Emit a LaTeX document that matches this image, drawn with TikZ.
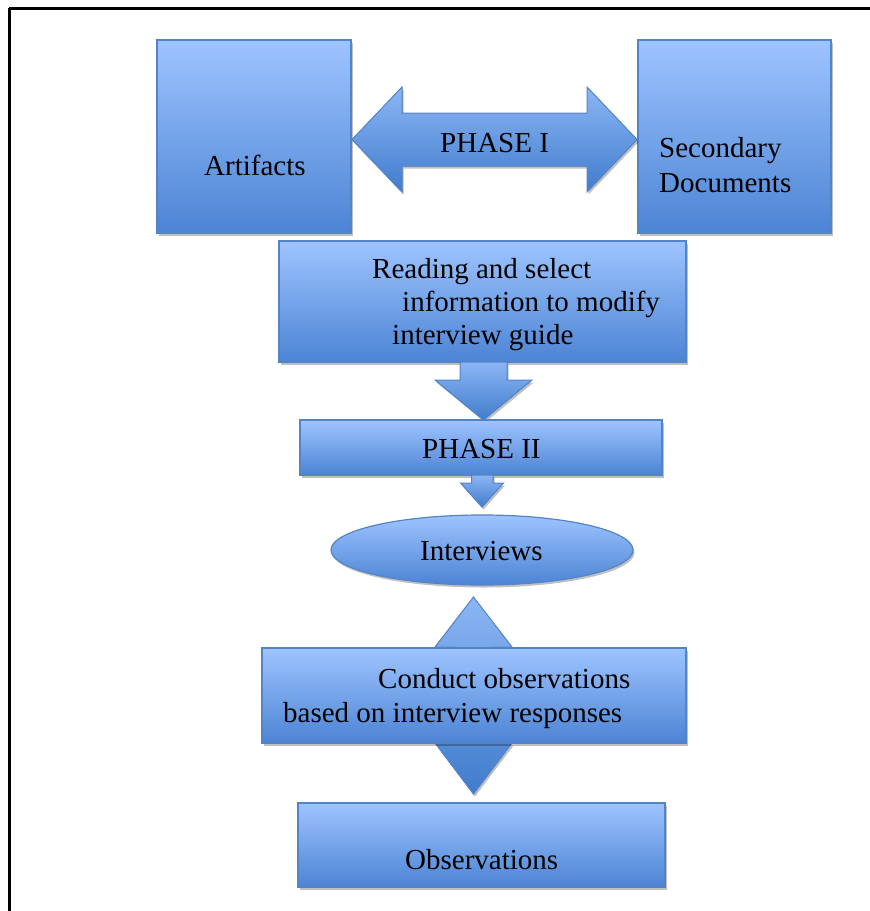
\documentclass[tikz,border=0pt]{standalone}
\usepackage{fontspec}
\setmainfont{Liberation Serif}
\usetikzlibrary{shadows,shapes.geometric}
\definecolor{boxtop}{RGB}{158,196,255}
\definecolor{boxbot}{RGB}{76,132,212}
\definecolor{arrtop}{RGB}{140,182,245}
\definecolor{arrbot}{RGB}{64,124,204}
\definecolor{edge}{RGB}{84,132,200}
\tikzset{
  blockbox/.style={draw=edge, line width=1.2pt, top color=boxtop, bottom color=boxbot,
    rectangle, inner sep=0pt,
    drop shadow={shadow xshift=1.5pt, shadow yshift=-2.5pt, opacity=0.25, fill=black}},
  blockarrow/.style={draw=edge, line width=1pt, line join=miter, top color=arrtop, bottom color=arrbot,
    drop shadow={shadow xshift=1.5pt, shadow yshift=-2.5pt, opacity=0.25, fill=black}},
  label/.style={anchor=base west, inner sep=0pt, font=\fontsize{29}{33}\selectfont},
  frameline/.style={line width=3pt}
}
\begin{document}
\begin{tikzpicture}[x=1pt,y=-1pt]
\useasboundingbox (0,0) rectangle (870,911);
\fill[white] (0,0) rectangle (870,911);

% outer frame (top and left edges)
\draw[frameline] (9,8) -- (870,8);
\draw[frameline] (9,8) -- (9,911);

% boxes of phase I
\node[blockbox, minimum width=194pt, minimum height=193pt] (art) at (254,136.5) {};
\node[blockbox, minimum width=193pt, minimum height=193pt] (sec) at (734.5,136.5) {};

% two-way arrow between the sources
\filldraw[blockarrow] (352,139.5) -- (402,87) -- (402,113) -- (587,113) -- (587,87)
  -- (637,139.5) -- (587,192) -- (587,166) -- (402,166) -- (402,192) -- cycle;

% reading step
\node[blockbox, minimum width=407pt, minimum height=121pt] (read) at (482.5,301.5) {};

% arrow down to phase II
\filldraw[blockarrow] (460,362) -- (507,362) -- (507,380) -- (532,380) -- (483.5,420)
  -- (435,380) -- (460,380) -- cycle;

% phase II bar
\node[blockbox, minimum width=362pt, minimum height=55pt] (ph2) at (481,447.5) {};

% small arrow down to interviews
\filldraw[blockarrow] (471.5,475) -- (493,475) -- (493,483) -- (503.5,483) -- (482,507)
  -- (460.5,483) -- (471.5,483) -- cycle;

% interviews
\node[blockbox, ellipse, minimum width=302pt, minimum height=70pt] (int) at (482,550) {};

% two-way vertical arrow behind the observation step
\filldraw[blockarrow] (473.5,597) -- (512,647) -- (492,647) -- (492,743) -- (512,743)
  -- (473.5,794) -- (435,743) -- (455,743) -- (455,647) -- (435,647) -- cycle;

% observation step
\node[blockbox, minimum width=424pt, minimum height=95pt] (cond) at (474,695.5) {};

% observations
\node[blockbox, minimum width=367pt, minimum height=84pt] (obs) at (481.5,845) {};

% texts
\node[label] (tArt) at (204,175) {Artifacts};
\node[label] (tSec1) at (659,157) {Secondary};
\node[label] (tSec2) at (659,192) {Documents};
\node[label] (tPh1) at (440,152) {PHASE I};
\node[label] (tRd1) at (372,278) {Reading and select};
\node[label] (tRd2) at (402,311) {information to modify};
\node[label] (tRd3) at (392,344) {interview guide};
\node[label] (tPh2) at (422,458) {PHASE II};
\node[label] (tInt) at (420,560) {Interviews};
\node[label] (tCo1) at (378,688) {Conduct observations};
\node[label] (tCo2) at (283,722) {based on interview responses};
\node[label] (tObs) at (405,869) {Observations};
\end{tikzpicture}
\end{document}
